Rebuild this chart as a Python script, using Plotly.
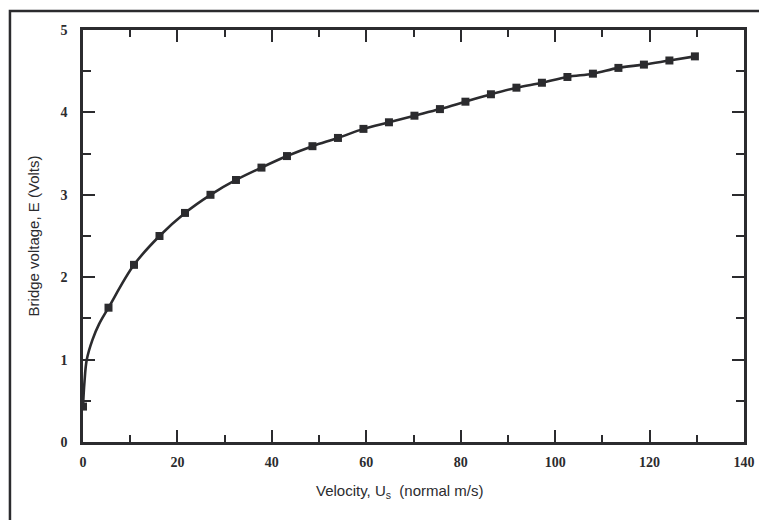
import plotly.graph_objects as go

# Measured calibration points
velocity = [0, 5.4, 10.8, 16.2, 21.6, 27.0, 32.4, 37.8, 43.2, 48.6, 54.0, 59.4, 64.8,
            70.2, 75.6, 81.0, 86.4, 91.8, 97.2, 102.6, 108.0, 113.4, 118.8, 124.2, 129.6]
voltage = [0.43, 1.63, 2.15, 2.50, 2.78, 3.00, 3.18, 3.33, 3.47, 3.59, 3.69, 3.80, 3.88,
           3.96, 4.04, 4.13, 4.22, 4.30, 4.36, 4.43, 4.47, 4.54, 4.58, 4.63, 4.68]

curve_x_extra = [0.3, 0.8, 2.0, 3.4]
curve_y_extra = [0.72, 1.0, 1.24, 1.43]

curve_x = [velocity[0]] + curve_x_extra + velocity[1:]
curve_y = [voltage[0]] + curve_y_extra + voltage[1:]

x_ticks = [0, 20, 40, 60, 80, 100, 120, 140]
y_ticks = [0, 1, 2, 3, 4, 5]

ink = "#2b2b2e"

fig = go.Figure()
fig.add_trace(go.Scatter(x=curve_x, y=curve_y, mode="lines",
                         line=dict(color=ink, width=2.6, shape="spline", smoothing=1.0),
                         hoverinfo="skip", showlegend=False))
fig.add_trace(go.Scatter(x=velocity, y=voltage, mode="markers",
                         marker=dict(symbol="square", size=8, color=ink),
                         showlegend=False))

tickfont = dict(family="Liberation Serif", size=14, color=ink, weight="bold")
axis_common = dict(showgrid=False, zeroline=False, showline=True, linecolor=ink,
                   linewidth=2.5, mirror="allticks", ticks="inside", tickcolor=ink,
                   tickwidth=2, tickfont=tickfont)

fig.update_xaxes(range=[0, 140], tickvals=x_ticks, ticklen=12,
                 minor=dict(ticks="inside", dtick=10, tick0=0, ticklen=7, tickwidth=2, tickcolor=ink),
                 ticklabelstandoff=5,
                 **axis_common)
fig.update_yaxes(range=[0, 5], tickvals=y_ticks, ticklen=12,
                 minor=dict(ticks="inside", dtick=0.5, tick0=0, ticklen=8, tickwidth=2, tickcolor=ink),
                 title=dict(text="Bridge voltage, E (Volts)",
                            font=dict(family="Liberation Sans", size=15, color=ink), standoff=18),
                 ticklabelstandoff=10,
                 **axis_common)

fig.add_annotation(text="Velocity, U<sub>s</sub>  (normal m/s)", xref="paper", yref="paper",
                   x=0.48, y=-0.121, xanchor="center", yanchor="middle", showarrow=False,
                   font=dict(family="Liberation Sans", size=15, color=ink))

# Outer frame of the scanned figure
fig.add_shape(type="rect", xref="paper", yref="paper",
              x0=-0.1105, x1=1.1, y0=-0.3, y1=1.046,
              line=dict(color=ink, width=2.5), fillcolor="rgba(0,0,0,0)", layer="below")

# The page body adds an 8px offset, so the figure is 8px smaller than the window
fig.update_layout(width=759, height=512,
                  margin=dict(l=75, r=19, t=22, b=78),
                  plot_bgcolor="white", paper_bgcolor="white")

fig.write_html("out.html")
